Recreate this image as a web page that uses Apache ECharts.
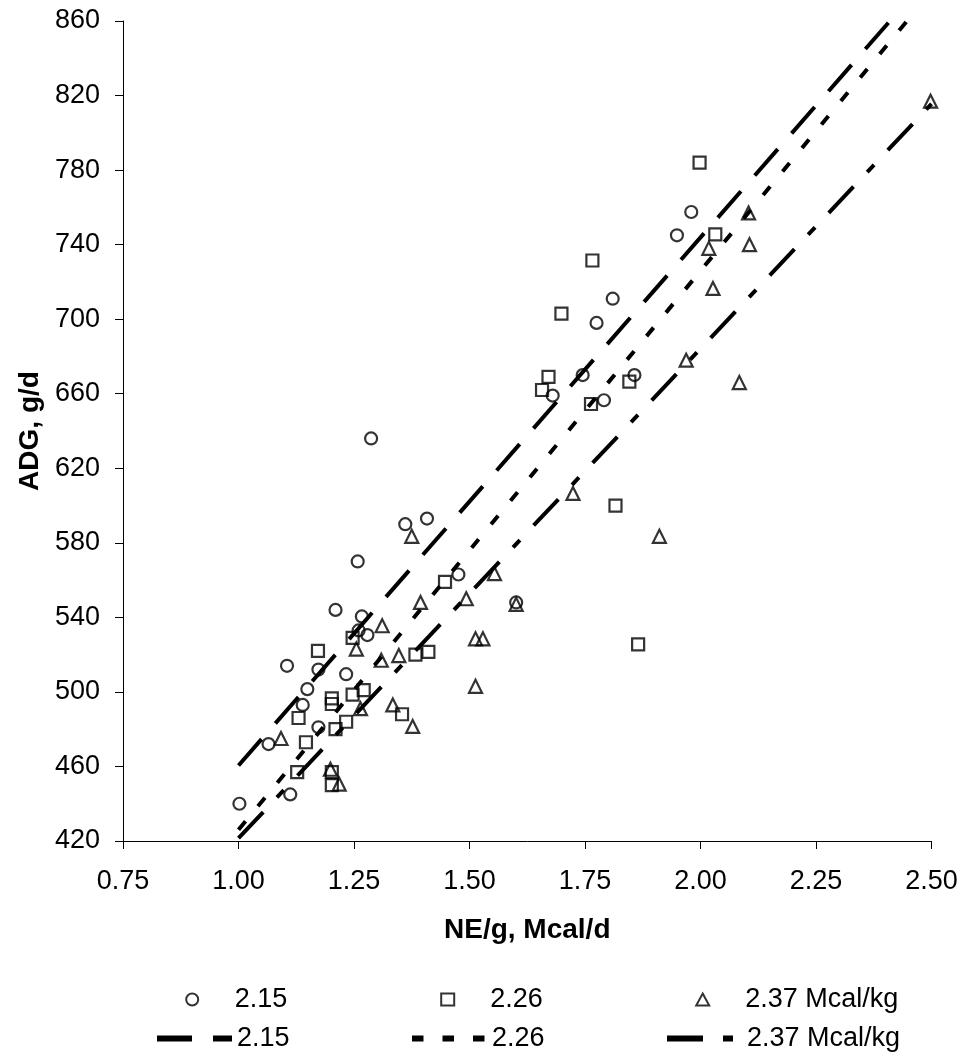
<!DOCTYPE html>
<html>
<head>
<meta charset="utf-8">
<script src="https://cdn.jsdelivr.net/npm/echarts@6/dist/echarts.min.js"></script>
<style>
html,body{margin:0;padding:0;background:#fff;}
#chart{width:962px;height:1057px;}
</style>
</head>
<body>
<div id="chart"></div>
<script>
// ---- data ----
const xTicks = [0.75, 1.00, 1.25, 1.50, 1.75, 2.00, 2.25, 2.50];
const yTicks = [420, 460, 500, 540, 580, 620, 660, 700, 740, 780, 820, 860];
const groupNames = ['2.15', '2.26', '2.37 Mcal/kg'];

// NEg intake (Mcal/d), ADG (g/d)
const pts215 = [[1.002,440],[1.065,472],[1.105,514],[1.112,445],[1.139,493],[1.149,501.5],[1.173,512],[1.173,481],[1.210,544],[1.233,509.5],[1.258,570],[1.260,533],[1.267,540.5],[1.279,530.5],[1.287,636],[1.361,590],[1.408,593],[1.476,563],[1.601,548],[1.680,659],[1.745,670],[1.775,698],[1.791,656.5],[1.810,711],[1.857,670],[1.949,745],[1.980,757.5]];
const pts226 = [[1.127,457],[1.130,486],[1.146,473],[1.172,522],[1.202,496.5],[1.202,493.5],[1.202,457],[1.202,450],[1.210,480],[1.233,484],[1.247,529],[1.247,498.5],[1.271,501],[1.354,488],[1.383,520],[1.411,521.5],[1.447,559],[1.657,662],[1.671,669],[1.699,703],[1.763,654.5],[1.766,731.5],[1.816,600],[1.846,666.5],[1.865,525.5],[1.998,784],[2.032,745.5]];
const pts237 = [[1.092,475],[1.199,458.5],[1.218,450.5],[1.255,523],[1.264,491],[1.309,517],[1.311,535.5],[1.334,493],[1.347,519.5],[1.375,583.5],[1.377,481.5],[1.394,548],[1.493,550],[1.513,503],[1.513,528.5],[1.529,528.5],[1.554,563.5],[1.601,547],[1.724,606.5],[1.911,583.5],[1.969,678],[2.018,738],[2.027,716.5],[2.084,666],[2.104,757],[2.106,740],[2.498,817]];

// regression line end points
const fit215 = [[1.00,460.5],[2.41,860]];
const fit226 = [[1.00,426],[2.447,860]];
const fit237 = [[1.00,421.5],[2.50,815.5]];

// ---- chart ----
const FONT = "'Liberation Sans', Arial, sans-serif";
const dash215 = [35, 21];
const dash226 = [11, 19.5];
const dash237 = [36, 20, 10, 20];

function scatter(name, data, symbol, size) {
  return {
    type: 'scatter', name: name, data: data, symbol: symbol, symbolSize: size,
    itemStyle: { color: 'rgba(255,255,255,0)', borderColor: '#000', borderWidth: 2.2 },
    z: 2, silent: true
  };
}
function fitLine(name, data, dash) {
  return {
    type: 'line', name: name, data: data, symbol: 'none', showSymbol: false,
    lineStyle: { color: '#000', width: 4, type: dash, cap: 'butt' },
    itemStyle: { color: '#000' },
    z: 3, silent: true
  };
}
function legendItem(name, left, top, itemWidth, itemHeight, extra) {
  return Object.assign({
    data: [name], left: left, top: top, orient: 'horizontal', padding: 0,
    itemWidth: itemWidth, itemHeight: itemHeight, selectedMode: false,
    textStyle: { fontFamily: FONT, fontSize: 27, color: '#000' },
    formatter: function (n) { return n.replace(' line', ''); }
  }, extra || {});
}
function symbolLegend(name, center, top) {
  return legendItem(name, center - 6.5, top, 13, 12, {
    symbolKeepAspect: true,
    textStyle: { fontFamily: FONT, fontSize: 27, color: '#000', padding: [0, 0, 0, 31] }
  });
}
function lineLegend(name, left, top, dash) {
  return legendItem(name, left, top, 75, 12, {
    itemStyle: { opacity: 0 },
    lineStyle: { width: 6, type: dash, cap: 'butt', color: '#000' }
  });
}

const chart = echarts.init(document.getElementById('chart'), null, { renderer: 'canvas' });
chart.setOption({
  animation: false,
  backgroundColor: '#fff',
  grid: { left: 123, right: 30.5, top: 21, bottom: 216, containLabel: false },
  xAxis: {
    type: 'value', min: xTicks[0], max: xTicks[xTicks.length - 1], interval: 0.25,
    name: 'NE/g, Mcal/d', nameLocation: 'middle', nameGap: 75,
    nameTextStyle: { fontFamily: FONT, fontSize: 28, fontWeight: 'bold', color: '#000' },
    axisLine: { show: true, onZero: false, lineStyle: { color: '#000', width: 1 } },
    axisTick: { show: true, inside: false, length: 8, lineStyle: { color: '#000' }, customValues: xTicks },
    axisLabel: { fontFamily: FONT, fontSize: 27, color: '#000', margin: 27,
      customValues: xTicks, formatter: function (v) { return v.toFixed(2); } },
    splitLine: { show: false }
  },
  yAxis: {
    type: 'value', min: yTicks[0], max: yTicks[yTicks.length - 1],
    name: 'ADG, g/d', nameLocation: 'middle', nameGap: 79, nameRotate: 90,
    nameTextStyle: { fontFamily: FONT, fontSize: 28, fontWeight: 'bold', color: '#000' },
    axisLine: { show: true, onZero: false, lineStyle: { color: '#000', width: 1 } },
    axisTick: { show: true, inside: false, length: 8, lineStyle: { color: '#000' }, customValues: yTicks },
    axisLabel: { fontFamily: FONT, fontSize: 27, color: '#000', margin: 23, customValues: yTicks },
    splitLine: { show: false }
  },
  legend: [
    symbolLegend(groupNames[0], 191.7, 986),
    symbolLegend(groupNames[1], 446.7, 986),
    symbolLegend(groupNames[2], 701.7, 986),
    lineLegend(groupNames[0] + ' line', 154, 1025, dash215),
    lineLegend(groupNames[1] + ' line', 409, 1025, [11.5, 19]),
    lineLegend(groupNames[2] + ' line', 664, 1025, dash237)
  ],
  series: [
    scatter(groupNames[0], pts215, 'circle', 12),
    scatter(groupNames[1], pts226, 'rect', 12),
    scatter(groupNames[2], pts237, 'triangle', 13),
    fitLine(groupNames[0] + ' line', fit215, dash215),
    fitLine(groupNames[1] + ' line', fit226, dash226),
    fitLine(groupNames[2] + ' line', fit237, dash237)
  ]
});
</script>
</body>
</html>
